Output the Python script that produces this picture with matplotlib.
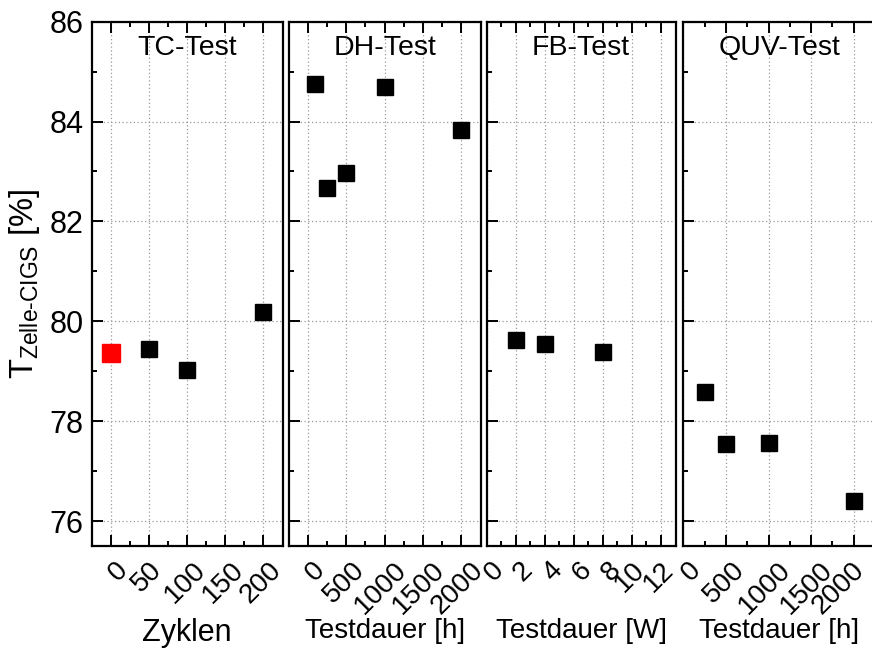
import matplotlib
matplotlib.use("Agg")
import matplotlib.pyplot as plt
import matplotlib.transforms as mtransforms
from matplotlib.ticker import MultipleLocator

plt.rcParams['font.family'] = ['Liberation Sans', 'DejaVu Sans']
plt.rcParams['mathtext.fontset'] = 'custom'
plt.rcParams['mathtext.rm'] = 'Liberation Sans'
plt.rcParams['mathtext.it'] = 'Liberation Sans'

# ---- data ----
tc_x = [50, 100, 200]
tc_y = [79.45, 79.02, 80.18]
ref_x = [0]
ref_y = [79.36]

dh_x = [100, 250, 500, 1000, 2000]
dh_y = [84.75, 82.67, 82.97, 84.70, 83.83]

fb_x = [2, 4, 8]
fb_y = [79.63, 79.55, 79.38]

quv_x = [250, 500, 1000, 2000]
quv_y = [78.58, 77.55, 77.57, 76.40]

titles = ["TC-Test", "DH-Test", "FB-Test", "QUV-Test"]
xlabels = ["Zyklen", "Testdauer [h]", "Testdauer [W]", "Testdauer [h]"]
xlims = [(-25, 225), (-250, 2250), (0, 13), (0, 2250)]
xmajor = [50, 500, 2, 500]
ylim = (75.5, 86)

W, H = 872, 649
fig = plt.figure(figsize=(W / 100, H / 100), dpi=100)

lefts = [91.7, 288.5, 486.5, 683.3]
rights = [282.5, 480.7, 675.5, 875.0]
top_px, bot_px = 21.7, 546.0

axes = []
for i in range(4):
    ax = fig.add_axes([lefts[i] / W, 1 - bot_px / H,
                       (rights[i] - lefts[i]) / W, (bot_px - top_px) / H])
    axes.append(ax)

series = [(tc_x, tc_y), (dh_x, dh_y), (fb_x, fb_y), (quv_x, quv_y)]

for i, ax in enumerate(axes):
    x, y = series[i]
    ax.plot(x, y, linestyle='none', marker='s', markersize=11,
            color='black', zorder=5, clip_on=False)
    if i == 0:
        ax.plot(ref_x, ref_y, linestyle='none', marker='s', markersize=13.5,
                color='#ff0000', markeredgecolor='#ff0000', zorder=5)
    ax.set_xlim(*xlims[i])
    ax.set_ylim(*ylim)
    ax.xaxis.set_major_locator(MultipleLocator(xmajor[i]))
    ax.xaxis.set_minor_locator(MultipleLocator(xmajor[i] / 2))
    ax.yaxis.set_major_locator(MultipleLocator(2))
    ax.yaxis.set_minor_locator(MultipleLocator(1))
    ax.grid(True, which='major', linestyle=(0, (1, 2)), color='#999999',
            linewidth=0.9)
    ax.set_axisbelow(True)
    for s in ax.spines.values():
        s.set_linewidth(1.6)
    ax.tick_params(which='both', direction='in', top=True, right=False,
                   width=1.4)
    ax.tick_params(axis='y', labelsize=22)
    ax.tick_params(axis='x', labelsize=20)
    ax.tick_params(which='major', length=8)
    ax.tick_params(which='minor', length=3.5)
    ax.tick_params(axis='x', which='major', pad=8)
    ax.tick_params(axis='y', which='major', pad=6)
    for lab in ax.get_xticklabels():
        lab.set_rotation(45)
        lab.set_ha('center')
        txt = lab.get_text().replace('\u2212', '-')
        n = len(txt)
        dx = 8 if n == 1 else (-2 if n < 4 else -4)
        if i == 3 and txt == '2000':
            dx = -15
        lab.set_transform(lab.get_transform() +
                          mtransforms.ScaledTranslation(dx / 100, 0,
                                                        fig.dpi_scale_trans))
    if i > 0:
        ax.tick_params(axis='y', labelleft=False)
    ax.set_xlabel(xlabels[i], fontsize=22 if i == 0 else 20)
    ax.xaxis.set_label_coords(0.5, -0.138)
    ax.text(0.5, 0.95, titles[i], transform=ax.transAxes, ha='center',
            va='center', fontsize=20.5)

axes[0].set_ylabel('T$_{\\mathregular{Zelle\u2010CIGS}}$ [%]', fontsize=23.5)
axes[0].yaxis.set_label_coords(-0.26, 0.5)

fig.savefig("out.png", dpi=100)
